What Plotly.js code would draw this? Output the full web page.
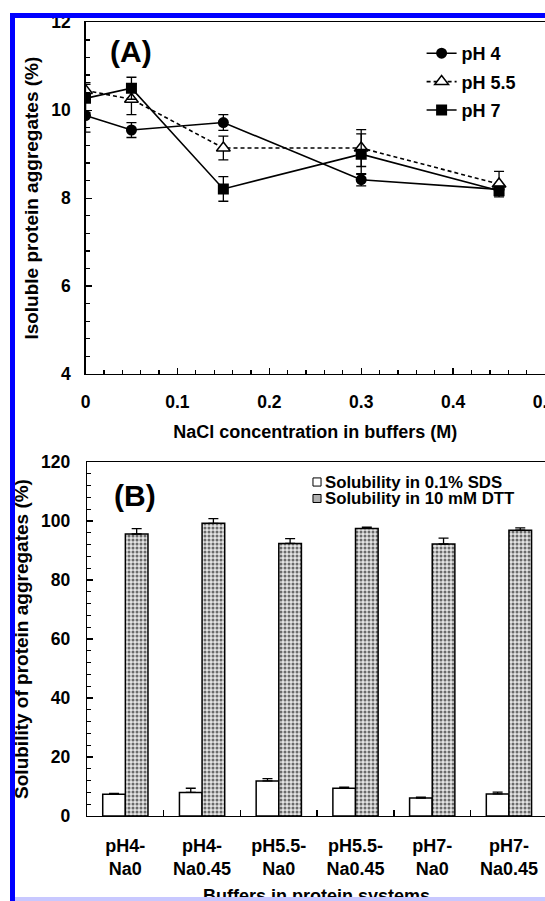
<!DOCTYPE html>
<html>
<head>
<meta charset="utf-8">
<script src="https://cdn.plot.ly/plotly-3.0.1.min.js"></script>
<style>
  html, body { margin: 0; padding: 0; background: #ffffff; }
  #wrap { position: relative; width: 545px; height: 901px; overflow: hidden; }
  #chart { position: absolute; left: 0; top: 0; width: 545px; height: 901px; }
  .band { position: absolute; background: #0000ff; }
</style>
</head>
<body>
<div id="wrap">
  <div id="chart"></div>
  <div class="band" style="left:10px; top:13px; width:5px; height:888px;"></div>
  <div class="band" style="left:10px; top:13px; width:535px; height:5px;"></div>
  <div class="band" style="left:15px; top:897px; width:530px; height:4px; background:#c8c8ff;"></div>
</div>
<script>
// ---- Panel A data ----
const nacl = [0, 0.05, 0.15, 0.3, 0.45];
const ph4 = [9.88, 9.55, 9.72, 8.42, 8.20];
const ph4Err = [0.38, 0.17, 0.18, 0.14, 0.10];
const ph55 = [10.45, 10.25, 9.14, 9.14, 8.32];
const ph55Err = [0.18, 0.35, 0.27, 0.42, 0.29];
const ph7 = [10.27, 10.50, 8.21, 9.00, 8.17];
const ph7Err = [0.32, 0.25, 0.28, 0.46, 0.10];
const seriesNamesA = ['pH 4', 'pH 5.5', 'pH 7'];

// ---- Panel B data ----
const buffers = ['pH4-<br>Na0', 'pH4-<br>Na0.45', 'pH5.5-<br>Na0', 'pH5.5-<br>Na0.45', 'pH7-<br>Na0', 'pH7-<br>Na0.45'];
const sds = [7.4, 8.0, 11.9, 9.4, 6.1, 7.5];
const sdsErr = [0.3, 1.4, 0.8, 0.4, 0.3, 0.6];
const dtt = [95.6, 99.2, 92.4, 97.5, 92.2, 96.9];
const dttErr = [1.8, 1.6, 1.6, 0.4, 2.0, 0.8];
const seriesNamesB = ['Solubility in 0.1% SDS', 'Solubility in 10 mM DTT'];
const titleXB = 'Buffers in protein systems';

const FAM = 'Liberation Sans, Arial, Helvetica, sans-serif';
const bold = (size) => ({ family: FAM, size: size, color: '#000', weight: 'bold' });

function errA(arr) {
  return { type: 'data', array: arr, visible: true, color: '#000', thickness: 1.3, width: 5 };
}

const traces = [
  {
    x: nacl, y: ph4, name: seriesNamesA[0], type: 'scatter', mode: 'lines+markers',
    xaxis: 'x', yaxis: 'y', legendgroup: 'a',
    line: { color: '#000', width: 1.6 },
    marker: { symbol: 'circle', size: 11, color: '#000' },
    error_y: errA(ph4Err)
  },
  {
    x: nacl, y: ph55, name: seriesNamesA[1], type: 'scatter', mode: 'lines+markers',
    xaxis: 'x', yaxis: 'y', legendgroup: 'b',
    line: { color: '#000', width: 1.6, dash: '4px,3px' },
    marker: { symbol: 'triangle-up', size: 12, color: '#fff', line: { color: '#000', width: 1.5 } },
    error_y: errA(ph55Err)
  },
  {
    x: nacl, y: ph7, name: seriesNamesA[2], type: 'scatter', mode: 'lines+markers',
    xaxis: 'x', yaxis: 'y', legendgroup: 'c',
    line: { color: '#000', width: 1.6 },
    marker: { symbol: 'square', size: 11, color: '#000' },
    error_y: errA(ph7Err)
  },
  {
    x: buffers, y: sds, name: seriesNamesB[0], type: 'bar', xaxis: 'x2', yaxis: 'y2',
    showlegend: false,
    marker: { color: '#ffffff', line: { color: '#000', width: 1.5 } },
    error_y: { type: 'data', symmetric: false, array: sdsErr, arrayminus: sdsErr.map(() => 0), color: '#000', thickness: 1.3, width: 5 }
  },
  {
    x: buffers, y: dtt, name: seriesNamesB[1], type: 'bar', xaxis: 'x2', yaxis: 'y2',
    showlegend: false,
    marker: {
      color: '#b8b8b8', line: { color: '#000', width: 1.5 },
      pattern: { shape: '.', bgcolor: '#e4e4e4', fgcolor: '#6a6a6a', size: 4, solidity: 0.45, fillmode: 'replace' }
    },
    error_y: { type: 'data', symmetric: false, array: dttErr, arrayminus: dttErr.map(() => 0), color: '#000', thickness: 1.3, width: 5 }
  }
];

const W = 545, H = 901;
const axCommon = {
  showline: true, linecolor: '#000', linewidth: 1.3, mirror: true,
  showgrid: false, zeroline: false,
  ticks: 'inside', ticklen: 6, tickwidth: 1.3, tickcolor: '#000',
  tickfont: bold(17.5)
};

const layout = {
  width: W, height: H,
  margin: { l: 0, r: 0, t: 0, b: 0 },
  paper_bgcolor: '#fff', plot_bgcolor: '#fff',
  showlegend: true,
  barmode: 'group', bargap: 0.41, bargroupgap: 0,
  xaxis: Object.assign({}, axCommon, {
    domain: [85.5 / W, 1], range: [0, 0.5], tick0: 0, dtick: 0.1, anchor: 'y',
    minor: { dtick: 0.02, ticks: 'inside', ticklen: 4, tickwidth: 1.3, tickcolor: '#000' },
    ticklabeloverflow: 'allow', ticklabelstandoff: 12,
    title: { text: 'NaCl concentration in buffers (M)', font: bold(18), standoff: 14 }
  }),
  yaxis: Object.assign({}, axCommon, {
    domain: [(H - 374) / H, (H - 22.3) / H], range: [4, 12], tick0: 4, dtick: 2, anchor: 'x',
    minor: { dtick: 0.4, ticks: 'inside', ticklen: 4, tickwidth: 1.3, tickcolor: '#000' },
    ticklabelstandoff: 10,
    title: { text: 'Isoluble protein aggregates (%)', font: bold(19), standoff: 7 }
  }),
  xaxis2: Object.assign({}, axCommon, {
    type: 'category', domain: [87 / W, 1], range: [-0.5, 5.47], anchor: 'y2',
    tickson: 'boundaries', ticklabelstandoff: 13, tickfont: bold(18)
  }),
  yaxis2: Object.assign({}, axCommon, {
    domain: [(H - 816) / H, (H - 462) / H], range: [0, 120], tick0: 0, dtick: 20, anchor: 'x2',
    minor: { dtick: 4, ticks: 'inside', ticklen: 4, tickwidth: 1.3, tickcolor: '#000' },
    ticklabelstandoff: 12,
    title: { text: 'Solubility of protein aggregates (%)', font: bold(19), standoff: 7 }
  }),
  legend: {
    x: 421.6 / W, y: (H - 35) / H, xanchor: 'left', yanchor: 'top',
    font: bold(18), bgcolor: 'rgba(0,0,0,0)', borderwidth: 0,
    traceorder: 'grouped', tracegroupgap: 2
  },
  annotations: [
    { text: '(A)', xref: 'x domain', yref: 'y domain', x: 0.099, y: 0.918, showarrow: false, font: bold(30), xanchor: 'center', yanchor: 'middle' },
    { text: '(B)', xref: 'x2 domain', yref: 'y2 domain', x: 0.104, y: 0.904, showarrow: false, font: bold(30), xanchor: 'center', yanchor: 'middle' },
    { text: seriesNamesB[0], xref: 'x2 domain', yref: 'y2 domain', x: 0.515, y: 0.9435, showarrow: false, font: bold(16.8), xanchor: 'left', yanchor: 'middle' },
    { text: seriesNamesB[1], xref: 'x2 domain', yref: 'y2 domain', x: 0.515, y: 0.8975, showarrow: false, font: bold(16.8), xanchor: 'left', yanchor: 'middle' },
    { text: titleXB, xref: 'x2 domain', yref: 'paper', x: 0.5, y: 5 / H, showarrow: false, font: bold(18), xanchor: 'center', yanchor: 'middle' }
  ],
  shapes: [
    { type: 'rect', xref: 'x2 domain', yref: 'y2 domain', x0: 0.4934, x1: 0.511, y0: 0.932, y1: 0.955, fillcolor: '#fff', line: { color: '#000', width: 1 } },
    { type: 'rect', xref: 'x2 domain', yref: 'y2 domain', x0: 0.4934, x1: 0.511, y0: 0.8856, y1: 0.9082, fillcolor: '#b0b0b0', line: { color: '#000', width: 1 } }
  ]
};

Plotly.newPlot('chart', traces, layout, { displayModeBar: false, staticPlot: true });
</script>
</body>
</html>
